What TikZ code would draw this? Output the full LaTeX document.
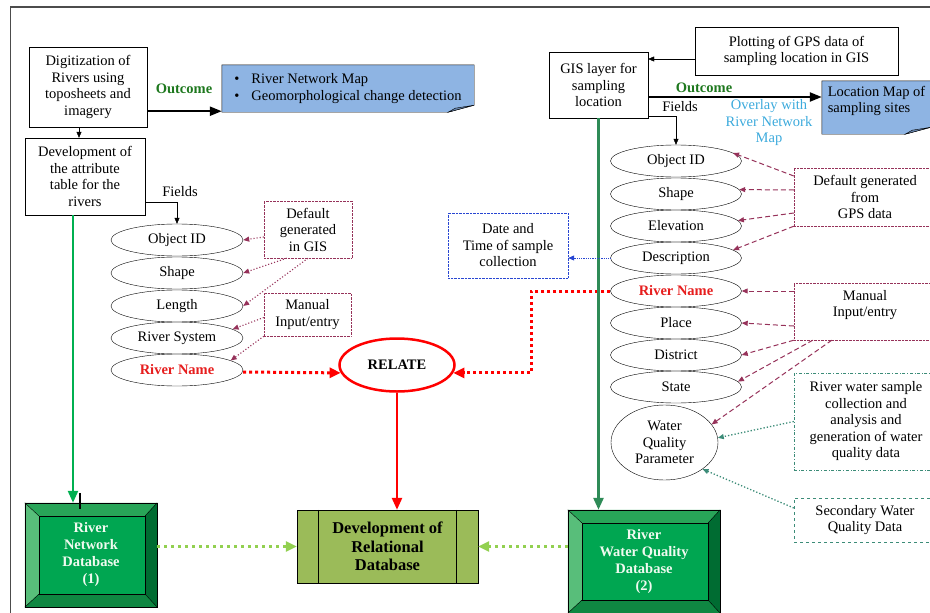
\documentclass[tikz,border=0pt]{standalone}
\usepackage{fontspec}
\setmainfont{Liberation Serif}
\usetikzlibrary{shapes.geometric}
\usetikzlibrary{positioning}
\usetikzlibrary{arrows.meta}
\usetikzlibrary{calc}

\definecolor{mapblue}{RGB}{142,180,227}
\definecolor{foldblue}{RGB}{105,135,175}
\definecolor{outgreen}{RGB}{30,120,30}
\definecolor{overlaycyan}{RGB}{60,170,220}
\definecolor{linegreen}{RGB}{0,176,80}
\definecolor{seagreen}{RGB}{46,139,87}
\definecolor{lightgreen}{RGB}{146,208,80}
\definecolor{olivebox}{RGB}{155,187,89}
\definecolor{maroonline}{RGB}{150,50,90}
\definecolor{tealline}{RGB}{60,140,120}
\definecolor{dateblue}{RGB}{40,70,210}
\definecolor{rivred}{RGB}{230,30,30}
\definecolor{dbface}{RGB}{0,166,81}
\definecolor{dbtop}{RGB}{40,165,88}
\definecolor{dbleft}{RGB}{88,190,122}
\definecolor{dbright}{RGB}{0,108,50}
\definecolor{dbbottom}{RGB}{15,135,66}
\definecolor{dbtextcol}{RGB}{240,250,240}

% bevelled database box
\newcommand{\dbbevel}[1]{%
  \fill[dbtop] (#1.north west) -- (#1.north east) -- ($(#1.north east)+(-12,13)$) -- ($(#1.north west)+(14,13)$) -- cycle;
  \fill[dbleft] (#1.north west) -- ($(#1.north west)+(14,13)$) -- ($(#1.south west)+(14,-13)$) -- (#1.south west) -- cycle;
  \fill[dbright] (#1.north east) -- ($(#1.north east)+(-12,13)$) -- ($(#1.south east)+(-12,-13)$) -- (#1.south east) -- cycle;
  \fill[dbbottom] (#1.south west) -- ($(#1.south west)+(14,-13)$) -- ($(#1.south east)+(-12,-13)$) -- (#1.south east) -- cycle;
  \draw ($(#1.north west)+(14,13)$) rectangle ($(#1.south east)+(-12,-13)$);
  \draw (#1.north west) -- ($(#1.north west)+(14,13)$);
  \draw (#1.north east) -- ($(#1.north east)+(-12,13)$);
  \draw (#1.south west) -- ($(#1.south west)+(14,-13)$);
  \draw (#1.south east) -- ($(#1.south east)+(-12,-13)$);
  \draw (#1.north west) rectangle (#1.south east);
}
% blue box with a folded corner
\newcommand{\foldbox}[1]{%
  \fill[white] ($(#1.south east)+(0,-7)$) -- (#1.south east) -- ($(#1.south east)+(-26,0)$) -- cycle;
  \draw (#1.north west) -- (#1.north east) -- ($(#1.south east)+(0,-7)$) -- ($(#1.south east)+(-26,0)$) -- (#1.south west) -- cycle;
  \draw[fill=foldblue] ($(#1.south east)+(0,-7)$) -- ($(#1.south east)+(-26,0)$) -- ($(#1.south east)+(-19,-4)$) -- cycle;
}

\begin{document}
\begin{tikzpicture}[x=1pt,y=-1pt,font=\fontsize{14.5}{16.5}\selectfont,
  procbox/.style={draw, rectangle, align=center, inner sep=0pt},
  field/.style={draw, ellipse, minimum width=132pt, minimum height=32pt, inner sep=0pt},
  dbtext/.style={font=\fontsize{14.5}{17}\selectfont\bfseries, text=dbtextcol, align=center},
  mdot/.style={draw=maroonline, dotted, line width=1.1pt, -{Triangle[length=6pt,width=5pt]}},
  mdash/.style={draw=maroonline, dash pattern=on 5pt off 3pt, line width=1pt, -{Triangle[length=6pt,width=5pt]}},
  tdot/.style={draw=tealline, dotted, line width=1.3pt, -{Triangle[length=6pt,width=5pt]}},
  rdot/.style={draw=red, line width=3pt, dash pattern=on 3pt off 3pt, -{Triangle[length=11pt,width=10pt]}},
  gdot/.style={draw=lightgreen, line width=3pt, dash pattern=on 3pt off 4pt, -{Triangle[length=11pt,width=10pt]}}]
\useasboundingbox (0,0) rectangle (930,613);
\draw[line width=1.2pt, black!70] (10.5,613) -- (10.5,7) -- (930,7);

% river network side
\node[procbox, minimum width=118pt, minimum height=80pt] (digit) at (88,87) {Digitization of\\Rivers using\\toposheets and\\imagery};
\node[procbox, minimum width=120pt, minimum height=77pt] (attrib) at (85,176.5) {Development of\\the attribute\\table for the\\rivers};
\node[fill=mapblue, minimum width=252pt, minimum height=47pt, align=left, inner sep=0pt] (netmap) at (348,88.5) {\textbullet\hspace{12pt}River Network Map\\\textbullet\hspace{12pt}Geomorphological change detection};
\foldbox{netmap}
\node[text=outgreen] (outleft) at (184,89) {\textbf{Outcome}};
\node (fieldsleft) at (180,192) {Fields};

\node[field] (lobj) at (177,240) {Object ID};
\node[field] (lshape) at (177,273) {Shape};
\node[field] (llen) at (177,306) {Length};
\node[field] (lsys) at (177,338) {River System};
\node[field, text=rivred] (lriver) at (177,370) {\textbf{River Name}};

\node[draw=maroonline, densely dotted, minimum width=88pt, minimum height=57pt, align=center, inner sep=0pt] (gisdef) at (308,229.5) {Default\\generated\\in GIS};
\node[draw=maroonline, densely dotted, minimum width=87pt, minimum height=43pt, align=center, inner sep=0pt] (lmanual) at (307.5,314.5) {Manual\\Input/entry};

\node[draw=red, ellipse, line width=2.5pt, minimum width=115pt, minimum height=53pt] (relate) at (397,365) {\textbf{RELATE}};

% databases
\node[draw, fill=dbface, minimum width=132pt, minimum height=104pt, dbtext] (rndb) at (91,555) {River\\Network\\Database\\(1)};
\dbbevel{rndb}
\node[draw, fill=dbface, minimum width=152pt, minimum height=103pt, dbtext] (rwqdb) at (644,561.5) {River\\Water Quality\\Database\\(2)};
\dbbevel{rwqdb}
\node[draw, fill=olivebox, minimum width=181pt, minimum height=73pt, align=center, font=\fontsize{16.5}{18.5}\selectfont\bfseries] (reldb) at (387.5,546.5) {Development of\\Relational\\Database};
\draw ([xshift=21pt]reldb.north west) -- ([xshift=21pt]reldb.south west);
\draw ([xshift=-22pt]reldb.north east) -- ([xshift=-22pt]reldb.south east);

% sampling location side
\node[procbox, minimum width=203pt, minimum height=48pt] (plotgps) at (796.5,51) {Plotting of GPS data of\\sampling location in GIS};
\node[procbox, minimum width=99pt, minimum height=66pt] (gislayer) at (598.5,85) {GIS layer for\\sampling\\location};
\node[fill=mapblue, minimum width=109pt, minimum height=53pt, align=left, inner sep=0pt] (locmap) at (876.5,107.5) {Location Map of\\sampling sites\\~};
\foldbox{locmap}
\node[text=outgreen] (outright) at (704,88) {\textbf{Outcome}};
\node (fieldsright) at (680,107) {Fields};
\node[text=overlaycyan, align=center, inner sep=0pt] (overlay) at (769,123) {Overlay with\\River Network\\Map};

\node[field, minimum width=131pt] (robj) at (676,161) {Object ID};
\node[field, minimum width=131pt] (rshape) at (676,194) {Shape};
\node[field, minimum width=131pt] (relev) at (676,226) {Elevation};
\node[field, minimum width=131pt] (rdesc) at (676,258) {Description};
\node[field, minimum width=131pt, text=rivred] (rriver) at (676,291) {\textbf{River Name}};
\node[field, minimum width=131pt] (rplace) at (676,323) {Place};
\node[field, minimum width=131pt] (rdist) at (676,355) {District};
\node[field, minimum width=131pt] (rstate) at (676,387) {State};
\node[draw, ellipse, minimum width=107pt, minimum height=75pt, inner sep=0pt, align=center] (wqp) at (664.5,442.5) {Water\\Quality\\Parameter};

\node[draw=maroonline, densely dotted, minimum width=142pt, minimum height=58pt, align=center, inner sep=0pt] (gpsdef) at (865,197) {Default generated\\from\\GPS data};
\node[draw=maroonline, densely dotted, minimum width=142pt, minimum height=57pt, align=center, inner sep=0pt] (rmanual) at (865,311.5) {Manual\\Input/entry\\~};
\node[draw=tealline, dash dot, minimum width=144pt, minimum height=97pt, align=center, inner sep=0pt] (sample) at (866,421.5) {River water sample\\collection and\\analysis and\\generation of water\\quality data};
\node[draw=tealline, dashed, minimum width=142pt, minimum height=44pt, align=center, inner sep=0pt] (secondary) at (865,520) {Secondary Water\\Quality Data};
\node[draw=dateblue, densely dotted, minimum width=120pt, minimum height=65pt, align=center, inner sep=0pt] (datetime) at (508,245.5) {Date and\\Time of sample\\collection};

% connectors, left
\draw[-{Triangle[length=6pt,width=5pt]}] ([xshift=-9pt]digit.south) -- ([xshift=-6pt]attrib.north);
\draw[-{Triangle[length=12pt,width=9pt]}, line width=2.2pt] ([yshift=16pt]digit.south east) -- ([yshift=1pt]netmap.south west);
\draw[-{Triangle[length=6pt,width=5pt]}] ([yshift=-25.5pt]attrib.east) -| (lobj.north);
\draw[mdot] ([yshift=-7.5pt]gisdef.west) -- (lobj.east);
\draw[mdot] ([xshift=23pt]gisdef.south west) -- (lshape.east);
\draw[mdot] (gisdef.south) -- (llen.east);
\draw[mdot] ([yshift=-3pt]lmanual.west) -- (lsys.9);
\draw[mdot] (lmanual.south west) -- (lriver.10);
\draw[-{Triangle[length=12pt,width=10pt]}, linegreen, line width=2.5pt] ([xshift=-12pt]attrib.south) -- ([xshift=-18pt]rndb.north);
\draw[line width=1.2pt] ([xshift=-11pt,yshift=10pt]rndb.north) -- ([xshift=-11pt,yshift=-6pt]rndb.north);

% connectors, relate
\draw[rdot] ([yshift=-2pt]lriver.east) -- (relate.188);
\draw[rdot] (rriver.west) -- ++(-79,0) |- (relate.-8);
\draw[-{Triangle[length=12pt,width=10pt]}, red, line width=2.5pt] (relate.south) -- (relate.south |- reldb.north);
\draw[gdot] (rndb.east |- reldb.west) -- (reldb.west);
\draw[gdot] (rwqdb.west |- reldb.east) -- (reldb.east);

% connectors, right
\draw[-{Triangle[length=6pt,width=5pt]}] ([yshift=-8pt]plotgps.west) -- ([yshift=26pt]gislayer.east);
\draw[-{Triangle[length=12pt,width=9pt]}, line width=2.2pt] ([yshift=-12pt]gislayer.east) -- ([yshift=10.5pt]locmap.west);
\draw[-{Triangle[length=6pt,width=5pt]}] ([yshift=2pt]gislayer.south east) -| (robj.north);
\draw[-{Triangle[length=12pt,width=10pt]}, seagreen, line width=2.5pt] (gislayer.south) -- (gislayer.south |- rwqdb.north);
\draw[draw=dateblue, densely dotted, line width=0.8pt, -{Triangle[length=6pt,width=5pt]}] (rdesc.west) -- (rdesc.west -| datetime.east);

\draw[mdash] ([yshift=21pt]gpsdef.west) -- (robj.8);
\draw[mdash] ([yshift=7pt]gpsdef.west) -- (rshape.4);
\draw[mdash] ([yshift=-16pt]gpsdef.west) -- (relev.5);
\draw[mdash] (gpsdef.south west) -- (rdesc.8);
\draw[mdash] (rmanual.west |- rriver.east) -- (rriver.east);
\draw[mdash] ([yshift=-14.5pt]rmanual.west) -- (rplace.east);
\draw[mdash] (rmanual.south west) -- (rdist.east);
\draw[mdash] ([xshift=19pt]rmanual.south west) -- (rstate.5);
\draw[mdash] ([xshift=38pt]rmanual.south west) -- (wqp.21);
\draw[tdot] (sample.west) -- (wqp.5);
\draw[tdot] ([yshift=12pt]secondary.west) -- (wqp.-35);
\end{tikzpicture}
\end{document}
